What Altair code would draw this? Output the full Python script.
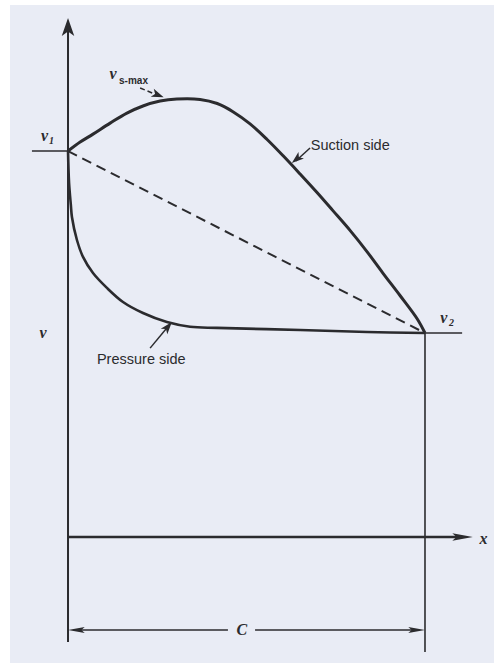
import altair as alt
import pandas as pd

# Blade surface velocity distribution: x is chordwise position (fraction of
# chord C), v is the surface velocity in units of the exit velocity v2.
V1 = 1.892      # velocity at the leading edge
V2 = 1.0        # velocity at the trailing edge
C = 1.0         # chord length

suction_x = [0.0, 0.034, 0.070, 0.118, 0.165, 0.210, 0.258, 0.305, 0.370,
             0.418, 0.462, 0.510, 0.557, 0.602, 0.650, 0.697, 0.742, 0.790,
             0.838, 0.882, 0.930, 0.978, 1.0]
suction_v = [1.892, 1.936, 1.975, 2.029, 2.078, 2.113, 2.137, 2.147, 2.145,
             2.125, 2.085, 2.025, 1.950, 1.870, 1.780, 1.690, 1.600, 1.503,
             1.398, 1.294, 1.184, 1.070, 1.0]

pressure_x = [0.0, 0.003, 0.008, 0.011, 0.025, 0.042, 0.070, 0.109, 0.154,
              0.210, 0.277, 0.342, 0.417, 0.650, 0.838, 1.0]
pressure_v = [1.892, 1.735, 1.627, 1.569, 1.456, 1.373, 1.294, 1.221, 1.152,
              1.098, 1.054, 1.031, 1.025, 1.015, 1.005, 1.0]

INK = "#2b2b2e"
PAPER = "#e9ecf5"

xs = alt.Scale(domain=[-0.1625, 1.1933], nice=False, zero=False)
ys = alt.Scale(domain=[-0.6176, 2.608], nice=False, zero=False)


def X(f):
    return alt.X(f, type="quantitative", scale=xs, axis=None)


def Y(f):
    return alt.Y(f, type="quantitative", scale=ys, axis=None)


suction = pd.DataFrame({"x": suction_x, "v": suction_v,
                        "i": range(len(suction_x))})
pressure = pd.DataFrame({"x": pressure_x, "v": pressure_v,
                         "i": range(len(pressure_x))})

suction_line = alt.Chart(suction).mark_line(
    color=INK, strokeWidth=3, interpolate="catmull-rom"
).encode(x=X("x"), y=Y("v"), order="i:Q")

pressure_line = alt.Chart(pressure).mark_line(
    color=INK, strokeWidth=2.6, interpolate="catmull-rom"
).encode(x=X("x"), y=Y("v"), order="i:Q")

# chord line joining leading-edge and trailing-edge velocities
chord = pd.DataFrame({"x": [0.0], "x2": [C], "v": [V1], "v2": [V2]})
chord_line = alt.Chart(chord).mark_rule(
    color=INK, strokeWidth=2, strokeDash=[10, 6]
).encode(x=X("x"), x2="x2", y=Y("v"), y2="v2")

# axes, guide lines and leaders
segments = pd.DataFrame([
    {"x": 0.0, "x2": 0.0, "v": -0.515, "v2": 2.50, "w": 2.0},      # v axis
    {"x": -0.101, "x2": 0.0, "v": V1, "v2": V1, "w": 1.5},         # v1 tick
    {"x": C, "x2": 1.104, "v": V2, "v2": V2, "w": 1.6},            # v2 level
    {"x": C, "x2": C, "v": V2, "v2": -0.564, "w": 1.6},            # trailing edge
    {"x": 0.0, "x2": 1.10, "v": 0.0, "v2": 0.0, "w": 2.5},         # x axis
    {"x": 0.02, "x2": 0.448, "v": -0.456, "v2": -0.456, "w": 1.5}, # chord dim
    {"x": 0.524, "x2": 0.98, "v": -0.456, "v2": -0.456, "w": 1.5},
    {"x": 0.678, "x2": 0.638, "v": 1.907, "v2": 1.843, "w": 1.5},  # suction leader
    {"x": 0.230, "x2": 0.282, "v": 0.926, "v2": 1.036, "w": 1.5},  # pressure leader
])
seg_layer = alt.Chart(segments).mark_rule(color=INK).encode(
    x=X("x"), x2="x2", y=Y("v"), y2="v2",
    strokeWidth=alt.StrokeWidth("w:Q", scale=None),
)

vmax_leader = alt.Chart(pd.DataFrame(
    {"x": [0.202], "x2": [0.255], "v": [2.201], "v2": [2.163]}
)).mark_rule(color=INK, strokeWidth=1.5, strokeDash=[5, 3]).encode(
    x=X("x"), x2="x2", y=Y("v"), y2="v2"
)

# arrowheads: symbol paths with the tip at the origin, pointing right
WIDE = "M0,0L-2,-0.7L-1.5,0L-2,0.7Z"
SLIM = "M0,0L-2,-0.36L-1.6,0L-2,0.36Z"
wide_heads = pd.DataFrame([
    {"x": 0.0, "v": 2.544, "a": 270, "s": 320},
    {"x": 0.268, "v": 2.156, "a": 21, "s": 150},
    {"x": 0.627, "v": 1.833, "a": 140, "s": 150},
    {"x": 0.291, "v": 1.054, "a": 310, "s": 150},
])
slim_heads = pd.DataFrame([
    {"x": 1.134, "v": 0.0, "a": 0, "s": 420},
    {"x": 0.0, "v": -0.456, "a": 180, "s": 280},
    {"x": C, "v": -0.456, "a": 0, "s": 280},
])


def heads(df, path):
    return alt.Chart(df).mark_point(
        shape=path, filled=True, color=INK, opacity=1, strokeWidth=0.5
    ).encode(
        x=X("x"), y=Y("v"),
        angle=alt.Angle("a:Q", scale=None),
        size=alt.Size("s:Q", scale=None),
    )


# symbols in italic serif
symbols = pd.DataFrame([
    {"x": -0.066, "v": 1.966, "t": "v"},
    {"x": -0.070, "v": 1.0, "t": "v"},
    {"x": 1.053, "v": 1.073, "t": "v"},
    {"x": 0.126, "v": 2.270, "t": "v"},
    {"x": 1.164, "v": -0.012, "t": "x"},
    {"x": 0.487, "v": -0.456, "t": "C"},
])
sym_layer = alt.Chart(symbols).mark_text(
    font="Liberation Serif", fontStyle="italic", fontWeight="bold",
    fontSize=16, color=INK, baseline="middle", align="center"
).encode(x=X("x"), y=Y("v"), text="t:N")

subs = pd.DataFrame([
    {"x": -0.046, "v": 1.942, "t": "1"},
    {"x": 1.074, "v": 1.050, "t": "2"},
])
subs_layer = alt.Chart(subs).mark_text(
    font="Liberation Serif", fontStyle="italic", fontWeight="bold",
    fontSize=10, color=INK, baseline="middle", align="center"
).encode(x=X("x"), y=Y("v"), text="t:N")

smax_layer = alt.Chart(pd.DataFrame(
    {"x": [0.143], "v": [2.236], "t": ["s-max"]}
)).mark_text(
    font="Liberation Sans", fontWeight="bold", fontSize=10, color=INK,
    baseline="middle", align="left"
).encode(x=X("x"), y=Y("v"), text="t:N")

names = pd.DataFrame([
    {"x": 0.680, "v": 1.917, "t": "Suction side"},
    {"x": 0.081, "v": 0.866, "t": "Pressure side"},
])
name_layer = alt.Chart(names).mark_text(
    font="Liberation Sans", fontSize=14.5, color=INK,
    baseline="middle", align="left"
).encode(x=X("x"), y=Y("v"), text="t:N")

chart = alt.layer(
    chord_line, seg_layer, vmax_leader, suction_line, pressure_line,
    heads(wide_heads, WIDE), heads(slim_heads, SLIM),
    sym_layer, subs_layer, smax_layer, name_layer,
).properties(
    width=484, height=658,
    autosize=alt.AutoSizeParams(type="none"),
    padding={"left": 10, "top": 5, "right": 0, "bottom": 0},
    background="white",
).configure_view(stroke=None, fill=PAPER)

chart.save("out.html", embed_options={"renderer": "svg", "actions": False})
